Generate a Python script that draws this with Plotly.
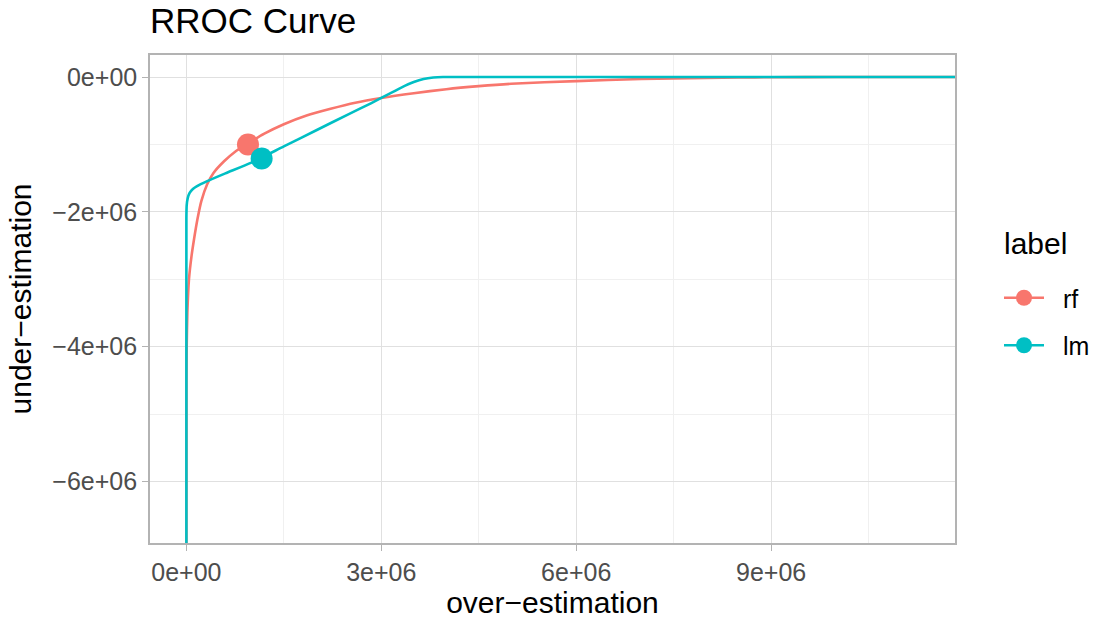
import plotly.graph_objects as go

# Values in units of 1e6
rf_x = [0, 0.001, 0.005, 0.015, 0.04, 0.08, 0.117, 0.17, 0.23, 0.32, 0.42, 0.58, 0.76, 0.94, 1.2, 1.5, 1.85,
        2.22, 2.6, 3.0, 3.5, 4.0, 4.5, 5.0, 6.0, 7.0, 7.5, 8.5, 9.0, 10.0, 11.9]
rf_y = [-6.95, -4.5, -4.0, -3.5, -3.0, -2.65, -2.41, -2.11, -1.84, -1.59, -1.42, -1.25, -1.10, -0.99, -0.84,
        -0.70, -0.57, -0.47, -0.38, -0.31, -0.24, -0.18, -0.135, -0.10, -0.06, -0.03, -0.02, -0.007, -0.003, 0, 0]
lm_x = [0, 0, 0.005, 0.02, 0.05, 0.1, 0.2, 0.32, 0.6, 1.0, 1.5, 2.0, 2.5, 2.84, 3.0, 3.3, 3.5, 3.65, 3.8, 3.95, 11.9]
lm_y = [-6.95, -2.1, -1.9, -1.8, -1.72, -1.66, -1.6, -1.545, -1.43, -1.27, -1.03, -0.79, -0.55, -0.39,
        -0.31, -0.16, -0.075, -0.03, -0.008, 0, 0]
pt_labels = ["rf", "lm"]
pt_x = [0.948, 1.158]
pt_y = [-1.0, -1.208]

x_tickvals = [0, 3e6, 6e6, 9e6]
x_ticktext = ["0e+00", "3e+06", "6e+06", "9e+06"]
y_tickvals = [-6e6, -4e6, -2e6, 0]
y_ticktext = ["\u22126e+06", "\u22124e+06", "\u22122e+06", "0e+00"]

colors = {"rf": "#F8766D", "lm": "#00BFC4"}
S = 1e6
FONT = "Liberation Sans, Arial, sans-serif"

fig = go.Figure()
fig.add_trace(go.Scatter(x=[v * S for v in rf_x], y=[v * S for v in rf_y], mode="lines",
                         line=dict(color=colors["rf"], width=2.6, shape="spline", smoothing=0.6),
                         showlegend=False, hoverinfo="skip"))
fig.add_trace(go.Scatter(x=[v * S for v in lm_x], y=[v * S for v in lm_y], mode="lines",
                         line=dict(color=colors["lm"], width=2.6, shape="spline", smoothing=0.6),
                         showlegend=False, hoverinfo="skip"))
for lab, px, py in zip(pt_labels, pt_x, pt_y):
    fig.add_trace(go.Scatter(x=[px * S], y=[py * S], mode="markers",
                             marker=dict(color=colors[lab], size=22), showlegend=False))
for i, lab in enumerate(pt_labels):
    fig.add_trace(go.Scatter(x=[None], y=[None], mode="lines+markers", name="\u00a0\u00a0" + lab,
                             legendgroup=lab,
                             line=dict(color=colors[lab], width=2.6),
                             marker=dict(color=colors[lab], size=20)))

axis_common = dict(showgrid=True, gridcolor="#E0E0E0", gridwidth=1.2,
                   showline=True, mirror=True, linecolor="#B3B3B3", linewidth=1.6,
                   ticks="outside", ticklen=6, tickcolor="#B3B3B3", tickwidth=1.4,
                   zeroline=False, tickfont=dict(family=FONT, size=25, color="#4D4D4D"),
                   minor=dict(showgrid=True, gridcolor="#F0F0F0", gridwidth=1, ticks=""))

fig.update_xaxes(range=[-0.56e6, 11.83e6], tickvals=x_tickvals, ticktext=x_ticktext,
                 minor_tickvals=[1.5e6, 4.5e6, 7.5e6, 10.5e6],
                 title=dict(text="over\u2212estimation", font=dict(family=FONT, size=30, color="black"), standoff=8),
                 **axis_common)
fig.update_yaxes(range=[-6.914e6, 0.327e6], tickvals=y_tickvals, ticktext=y_ticktext,
                 minor_tickvals=[-5e6, -3e6, -1e6],
                 title=dict(text="under\u2212estimation", font=dict(family=FONT, size=30, color="black"), standoff=12),
                 **axis_common)

fig.update_layout(
    width=1094, height=619,
    paper_bgcolor="white", plot_bgcolor="white",
    margin=dict(l=150, r=139, t=55, b=76, autoexpand=False),
    title=dict(text="RROC Curve", x=150 / 1094, xanchor="left", xref="container",
               y=1 - 21 / 619, yanchor="middle", yref="container",
               font=dict(family=FONT, size=35, color="black")),
    legend=dict(font=dict(family=FONT, size=25, color="black"),
                x=999 / 1094, xref="container", xanchor="left",
                y=1 - 275 / 619, yref="container", yanchor="top",
                tracegroupgap=12, itemwidth=40, bgcolor="rgba(0,0,0,0)"),
    annotations=[dict(text="label", xref="paper", yref="paper",
                      x=(1002 - 150) / (1094 - 150 - 139), y=(619 - 76 - 243) / (619 - 55 - 76),
                      xanchor="left", yanchor="middle", showarrow=False,
                      font=dict(family=FONT, size=30, color="black"))],
)

fig.write_html("out.html", config={"displayModeBar": False},
               post_script="document.body.style.margin='0';document.body.style.overflow='hidden';")
